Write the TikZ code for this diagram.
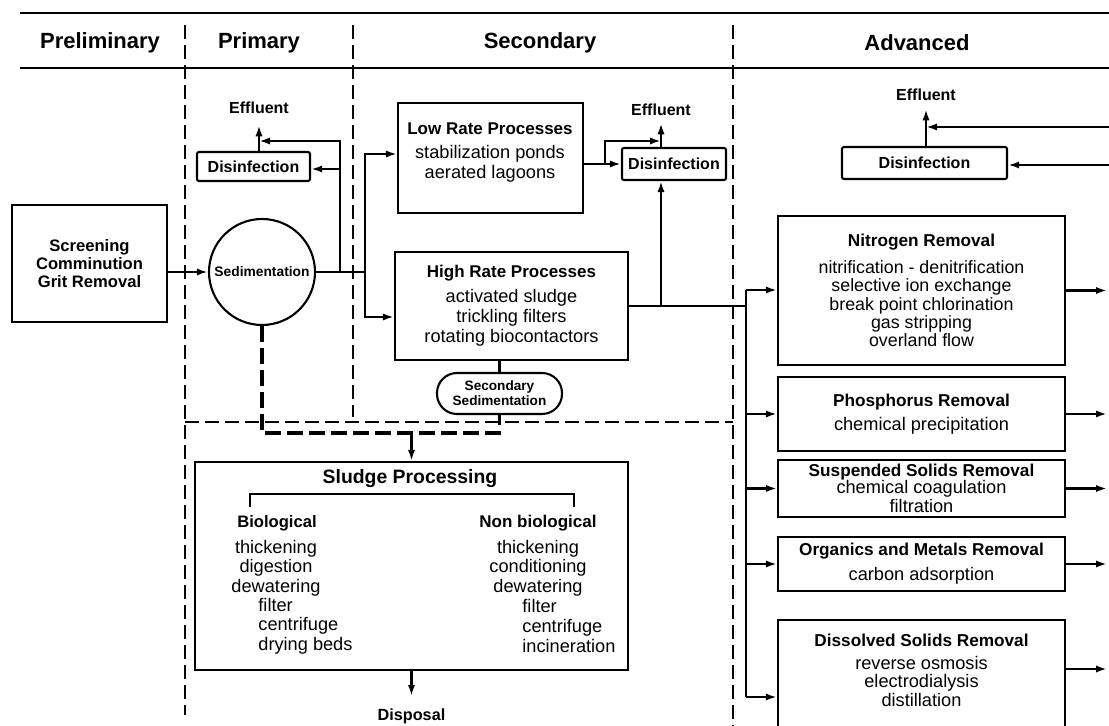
\documentclass[tikz,border=0pt]{standalone}
\usepackage{fontspec}
\setmainfont{Liberation Sans}
\usetikzlibrary{arrows.meta}
\newcommand\ttl{\bfseries\fontsize{8.6}{9}\selectfont}
\begin{document}
\begin{tikzpicture}[x=0.5pt,y=-0.5pt,
  arr/.style={-{Latex[length=5.5pt,width=3.6pt]}, line width=1.25pt},
  conn/.style={line width=1.25pt},
  box/.style={draw, line width=1.05pt, inner sep=0pt, align=center},
  divider/.style={line width=0.7pt, dash pattern=on 7pt off 3pt},
  sludgeln/.style={line width=1.6pt, dash pattern=on 8pt off 3pt},
  hdr/.style={font=\fontsize{11}{13}\selectfont\bfseries, inner sep=0pt},
  lbl/.style={font=\fontsize{8}{9}\selectfont\bfseries, inner sep=0pt},
  body/.style={font=\fontsize{9.1}{10}\selectfont, align=center, inner sep=0pt},
  disbox/.style={box, rounded corners=1pt, font=\fontsize{8}{9}\selectfont\bfseries},
]
\useasboundingbox (0,0) rectangle (1109,726);

% header
\draw[line width=1.2pt] (20,13) -- (1109,13);
\draw[line width=1.4pt] (20,68) -- (1109,68);
\node[hdr] (hPre) at (100,43) {Preliminary};
\node[hdr] (hPri) at (259,43) {Primary};
\node[hdr] (hSec) at (540,43) {Secondary};
\node[hdr] (hAdv) at (917,43) {Advanced};

% dividers
\draw[divider] (185,25) -- (185,715);
\draw[divider] (353,25) -- (353,417);
\draw[divider] (733,25) -- (733,726);
\draw[divider] (185,422) -- (733,422);

% preliminary / primary
\node[box, minimum width=77.5pt, minimum height=58.5pt, font=\fontsize{8.3}{9}\selectfont\bfseries] (screen) at (89.5,263.5) {Screening\\Comminution\\Grit Removal};
\node[draw, circle, line width=1.05pt, minimum size=53pt, inner sep=0pt, font=\fontsize{6.9}{8}\selectfont\bfseries] (sed) at (262,272) {Sedimentation};
\node[disbox, minimum width=56.5pt, minimum height=14.5pt] (dis1) at (253.5,166.5) {Disinfection};
\node[lbl] (eff1) at (259,108) {Effluent};

% secondary
\node[box, minimum width=92.5pt, minimum height=55pt] (low) at (490.5,158) {};
\node[body] (lowT) at (490,153) {{\bfseries\fontsize{8.5}{10}\selectfont Low Rate Processes}\\[2pt]stabilization ponds\\aerated lagoons};
\node[box, minimum width=116.5pt, minimum height=54pt, font=\fontsize{9.1}{10}\selectfont] (high) at (511.5,306) {{\bfseries\fontsize{8.5}{10}\selectfont High Rate Processes}\\[2.5pt]activated sludge\\trickling filters\\rotating biocontactors};
\node[draw, line width=1.05pt, rounded corners=10pt, minimum width=62.5pt, minimum height=20.5pt, inner sep=0pt, align=center, font=\fontsize{6.8}{7.5}\selectfont\bfseries] (ssed) at (499.5,393.5) {Secondary\\Sedimentation};
\node[disbox, minimum width=52pt, minimum height=16pt] (dis2) at (674,164) {Disinfection};
\node[lbl] (eff2) at (661,110) {Effluent};

% advanced
\node[disbox, minimum width=82.5pt, minimum height=16pt] (dis3) at (924.5,163) {Disinfection};
\node[lbl] (eff3) at (926,95) {Effluent};
\node[box, minimum width=143.5pt, minimum height=74.5pt, font=\fontsize{8.9}{9.2}\selectfont] (nitro) at (921.5,290.5) {{\ttl Nitrogen Removal}\\[4.3pt]nitrification - denitrification\\selective ion exchange\\break point chlorination\\gas stripping\\overland flow};
\node[box, minimum width=143.5pt, minimum height=37pt, font=\fontsize{9.1}{9.5}\selectfont] (phos) at (921.5,414) {{\ttl Phosphorus Removal}\\[2.5pt]chemical precipitation};
\node[box, minimum width=143.5pt, minimum height=28.5pt, font=\fontsize{9.1}{9.5}\selectfont] (susp) at (921.5,488.5) {{\ttl Suspended Solids Removal}\\[-1pt]chemical coagulation\\filtration};
\node[box, minimum width=143.5pt, minimum height=27pt, font=\fontsize{9.1}{9.5}\selectfont] (org) at (921.5,564) {{\ttl Organics and Metals Removal}\\[3pt]carbon adsorption};
\node[box, minimum width=143.5pt, minimum height=55pt] (diss) at (921.5,675) {};
\node[body, font=\fontsize{9.1}{9.3}\selectfont] (dissT) at (921.5,670) {{\ttl Dissolved Solids Removal}\\[2.2pt]reverse osmosis\\electrodialysis\\distillation};

% sludge processing
\node[box, minimum width=216.5pt, minimum height=104pt] (sludge) at (411.5,566) {};
\node[inner sep=0pt, font=\fontsize{9.7}{11}\selectfont\bfseries] (spT) at (410,479) {Sludge Processing};
\draw[line width=0.9pt] (250,507) -- (250,494) -- (574,494) -- (574,507);
\node[inner sep=0pt, font=\fontsize{8.3}{9}\selectfont\bfseries] (bio) at (277,523) {Biological};
\node[inner sep=0pt, font=\fontsize{8.5}{9}\selectfont\bfseries] (nbio) at (538,523) {Non biological};
\node[body, font=\fontsize{9.1}{9.8}\selectfont] (bioA) at (276,568) {thickening\\digestion\\dewatering};
\node[body, font=\fontsize{9.1}{9.8}\selectfont, align=left, anchor=west] (bioB) at (258,626) {filter\\centrifuge\\drying beds};
\node[body, font=\fontsize{9.1}{9.8}\selectfont] (nbioA) at (538,568) {thickening\\conditioning\\dewatering};
\node[body, font=\fontsize{9.1}{9.8}\selectfont, align=left, anchor=west] (nbioB) at (522,626) {filter\\centrifuge\\incineration};
\node[inner sep=0pt, font=\fontsize{8.1}{9}\selectfont\bfseries] (disp) at (411.5,716) {Disposal};

% coordinates
\coordinate (j1) at (340,272);
\coordinate (j1t) at (340,141);
\coordinate (j1m) at (340,169);
\coordinate (j2) at (365,272);
\coordinate (j2t) at (365,154);
\coordinate (j2b) at (365,317);
\coordinate (b2) at (605,164);
\coordinate (b2t) at (605,141);
\coordinate (h1) at (661,306);
\coordinate (bus) at (746,306);
\coordinate (busT) at (746,290);
\coordinate (busB) at (746,697);
\coordinate (edge) at (1107,0);
\coordinate (dY) at (0,669);
\coordinate (in1) at (1109,127);
\coordinate (in2) at (1109,165);
\coordinate (s1) at (262,433);

% primary connectors
\draw[arr] (screen.east |- sed.west) -- (sed.west);
\draw[conn] (sed.east) -- (j2);
\draw[arr] (j1) |- (eff1.south |- j1t);
\draw[arr] (j1m) -- (dis1.east |- j1m);
\draw[arr, shorten >=5.5pt] (eff1.south |- dis1.north) -- (eff1.south);

% secondary connectors
\draw[arr] (j2) |- (low.west |- j2t);
\draw[arr] (j2) |- (high.west |- j2b);
\draw[arr] (low.east |- dis2.west) -- (dis2.west);
\draw[arr] (b2) |- (eff2.south |- b2t);
\draw[arr, shorten >=3.5pt] (eff2.south |- dis2.north) -- (eff2.south);
\draw[conn] (high.east) -- (bus);
\draw[arr] (h1) -- (h1 |- dis2.south);
\draw[conn] (high.south -| ssed.north) -- (ssed.north);

% sludge lines
\draw[sludgeln] (sed.south) |- (ssed.south |- s1) -- (ssed.south);
\draw[arr] (sludge.north |- s1) -- (sludge.north);
\draw[arr, shorten >=6pt] (sludge.south) -- (disp.north);

% advanced connectors
\draw[conn] (busT) -- (busB);
\draw[arr] (busT) -- (nitro.west |- busT);
\draw[arr] (bus |- phos.west) -- (phos.west);
\draw[arr] (bus |- susp.west) -- (susp.west);
\draw[arr] (bus |- org.west) -- (org.west);
\draw[arr] (busB) -- (diss.west |- busB);
\draw[arr] (nitro.east) -- (nitro.east -| edge);
\draw[arr] (phos.east) -- (phos.east -| edge);
\draw[arr] (susp.east) -- (susp.east -| edge);
\draw[arr] (org.east) -- (org.east -| edge);
\draw[arr] (diss.east |- dY) -- (edge |- dY);
\draw[arr] (in1) -- (eff3.south |- in1);
\draw[arr] (in2) -- (dis3.east |- in2);
\draw[arr, shorten >=4pt] (eff3.south |- dis3.north) -- (eff3.south);
\end{tikzpicture}
\end{document}
